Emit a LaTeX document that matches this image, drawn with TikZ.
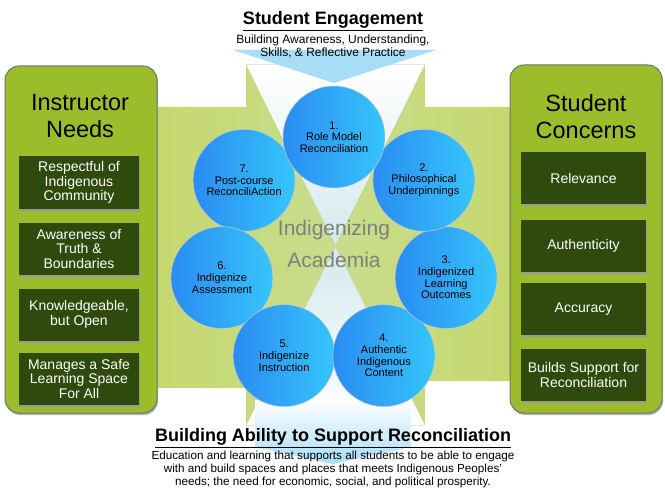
\documentclass[tikz,border=0pt]{standalone}
\usepackage{fontspec}
\setmainfont{Liberation Sans}
\usepackage{tikz}
\usetikzlibrary{positioning,shadows}
\definecolor{engblue}{HTML}{A8DDF8}
\definecolor{palehour}{HTML}{D4E9EC}
\definecolor{arrowgreen}{HTML}{C5D86D}
\definecolor{panelgreen}{HTML}{9BBD2B}
\definecolor{darkbox}{HTML}{2E4A0D}
\definecolor{circleft}{HTML}{2A8CF2}
\definecolor{circright}{HTML}{36C5FC}
\definecolor{midgray}{HTML}{7F7F7F}

\begin{document}
\begin{tikzpicture}[x=1pt,y=-1pt]
      \useasboundingbox (0,0) rectangle (665,495);

      \fill[top color=white, middle color=white, bottom color=palehour] (246,65) -- (425,65) -- (335.5,246) -- cycle;
      \fill[top color=palehour, middle color=white, bottom color=white] (335.5,246) -- (425,425) -- (246,425) -- cycle;
      \path[left color=arrowgreen, middle color=arrowgreen, right color=arrowgreen!75!palehour]
            (150,107) -- (246,107) -- (246,65) -- (335.5,246) -- (246,425) -- (246,388) -- (150,388) -- cycle;
      \path[left color=arrowgreen!75!palehour, middle color=arrowgreen, right color=arrowgreen]
            (516,107) -- (425,107) -- (425,65) -- (335.5,246) -- (425,425) -- (425,381) -- (516,381) -- cycle;
      \fill[engblue] (233,50) -- (436,50) -- (334,83) -- cycle;
      \path[top color=white, bottom color=engblue] (255,400) -- (411,400) -- (411,447) -- (333,464) -- (255,447) -- cycle;

      \begin{scope}[every node/.style={rectangle, rounded corners=14, fill=panelgreen, draw=black!55, line width=1,
                    drop shadow={shadow xshift=1pt, shadow yshift=-2pt, fill=black!30, opacity=1}}]
          \node[minimum width=152, minimum height=347] (IN) at (81,239.5) {};
          \node[minimum width=152, minimum height=348] (SC) at (586,239) {};
      \end{scope}
      \begin{scope}[every node/.style={align=center, font=\fontsize{23.5}{27}\selectfont}]
          \node (INt) at (80,116.5) {Instructor\\Needs};
          \node (SCt) at (586,116.5) {Student\\Concerns};
      \end{scope}

      \begin{scope}[every node/.style={rectangle, fill=darkbox, text=white, minimum height=52, align=center,
                    font=\fontsize{14}{14.5}\selectfont,
                    drop shadow={shadow xshift=0.5pt, shadow yshift=-2pt, fill=black!40, opacity=1}}]
          \node[minimum width=120] (I1) at (79,182.5) {Respectful of\\Indigenous\\Community};
          \node[minimum width=120] (I2) at (79,249) {Awareness of\\Truth \&\\Boundaries};
          \node[minimum width=120] (I3) at (79,314.5) {Knowledgeable,\\but Open};
          \node[minimum width=120] (I4) at (79,379) {Manages a Safe\\Learning Space\\For All};
          \node[minimum width=125] (C1) at (583.5,178) {Relevance};
          \node[minimum width=125] (C2) at (583.5,245.5) {Authenticity};
          \node[minimum width=125] (C3) at (583.5,309) {Accuracy};
          \node[minimum width=125] (C4) at (583.5,375) {Builds Support for\\Reconciliation};
      \end{scope}

      \node[text=midgray, align=center, font=\fontsize{21}{32}\selectfont] (IA) at (334,244) {Indigenizing\\Academia};

      \begin{scope}[every node/.style={circle, minimum size=102, inner sep=0, left color=circleft, right color=circright,
                    draw=black!20, line width=0.5, align=center, font=\fontsize{11}{11.7}\selectfont}]
          \node (A7) at (244.1,180.3) {7.\\Post-course\\ReconciliAction};
          \node (A6) at (221.9,277.6) {6.\\Indigenize\\Assessment};
          \node (A5) at (284.1,355.6) {5.\\Indigenize\\Instruction};
          \node (A4) at (383.9,355.6) {4.\\Authentic\\Indigenous\\Content};
          \node (A3) at (446.1,277.6) {3.\\Indigenized\\Learning\\Outcomes};
          \node (A2) at (423.9,180.3) {2.\\Philosophical\\Underpinnings};
          \node (A1) at (334,137) {1.\\Role Model\\Reconciliation};
      \end{scope}

      \node[font=\bfseries\fontsize{18}{20}\selectfont] (SE) at (333,21) {\underline{Student Engagement}};
      \node[align=center, font=\fontsize{12}{13.5}\selectfont] (SEd) at (333,46.5)
            {Building Awareness, Understanding,\\Skills, \& Reflective Practice};
      \node[font=\bfseries\fontsize{18}{20}\selectfont] (BA) at (333,438) {\underline{Building Ability to Support Reconciliation}};
      \node[align=center, font=\fontsize{11.7}{13.2}\selectfont] (BAd) at (333,469.5)
            {Education and learning that supports all students to be able to engage\\
             with and build spaces and places that meets Indigenous Peoples’\\
             needs; the need for economic, social, and political prosperity.};
\end{tikzpicture}
\end{document}
